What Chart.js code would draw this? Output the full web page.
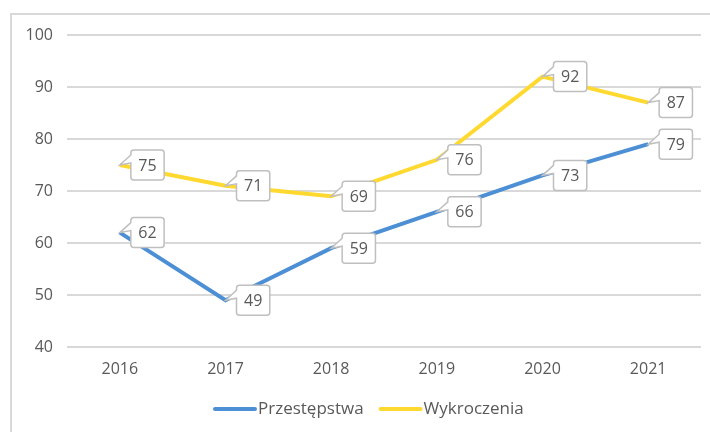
<!DOCTYPE html>
<html>
<head>
<meta charset="utf-8">
<script src="https://cdn.jsdelivr.net/npm/chart.js@4.4.0/dist/chart.umd.min.js"></script>
<style>
    body { margin: 0; background: #fff; }
    .chart-wrap { position: relative; width: 710px; height: 432px; overflow: hidden; }
    .chart-frame {
        position: absolute; left: 10px; top: 13px; width: 760px; height: 480px;
        border: 2px solid #d9d9d9; pointer-events: none;
    }
</style>
</head>
<body>
<div class="chart-wrap">
    <canvas id="crime-chart" width="710" height="432"></canvas>
    <div class="chart-frame"></div>
</div>
<script>
// Chart data
const years = ['2016', '2017', '2018', '2019', '2020', '2021'];
const przestepstwa = [62, 49, 59, 66, 73, 79];
const wykroczenia = [75, 71, 69, 76, 92, 87];
const yTicks = [40, 50, 60, 70, 80, 90, 100];

const textColor = '#595959';
const fontFamily = '"Open Sans", "Liberation Sans", sans-serif';

// Callout labels (box with a small pointer to the point)
const calloutPlugin = {
    id: 'callouts',
    afterDatasetsDraw(chart) {
        const ctx = chart.ctx;
        ctx.save();
        ctx.font = '16px ' + fontFamily;
        chart.data.datasets.forEach((dataset, i) => {
            const meta = chart.getDatasetMeta(i);
            meta.data.forEach((point, j) => {
                const text = String(dataset.data[j]);
                const w = ctx.measureText(text).width + 15;
                const h = 30;
                const left = point.x + 11;
                const top = point.y - h / 2;
                const r = 3;

                ctx.beginPath();
                ctx.moveTo(left + r, top);
                ctx.lineTo(left + w - r, top);
                ctx.arcTo(left + w, top, left + w, top + r, r);
                ctx.lineTo(left + w, top + h - r);
                ctx.arcTo(left + w, top + h, left + w - r, top + h, r);
                ctx.lineTo(left + r, top + h);
                ctx.arcTo(left, top + h, left, top + h - r, r);
                ctx.lineTo(left, top + 13);
                ctx.lineTo(point.x, point.y);
                ctx.lineTo(left, top + 5);
                ctx.lineTo(left, top + r);
                ctx.arcTo(left, top, left + r, top, r);
                ctx.closePath();
                ctx.fillStyle = '#ffffff';
                ctx.fill();
                ctx.lineWidth = 1.5;
                ctx.strokeStyle = '#bfbfbf';
                ctx.stroke();

                ctx.fillStyle = textColor;
                ctx.textAlign = 'center';
                ctx.textBaseline = 'middle';
                ctx.fillText(text, left + w / 2, point.y + 1);
            });
        });
        ctx.restore();
    }
};

// Legend drawn by hand so the line sits right next to the text
const legendPlugin = {
    id: 'lineLegend',
    afterDraw(chart) {
        const ctx = chart.ctx;
        const lineLen = 44;
        const gap = 1;
        const itemGap = 15;
        const y = 409;
        ctx.save();
        ctx.font = '17px ' + fontFamily;
        const items = chart.data.datasets.map(ds => ({
            label: ds.label,
            color: ds.borderColor,
            width: lineLen + gap + ctx.measureText(ds.label).width
        }));
        let x = 213;
        items.forEach(it => {
            ctx.strokeStyle = it.color;
            ctx.lineWidth = 4;
            ctx.lineCap = 'round';
            ctx.beginPath();
            ctx.moveTo(x + 2, y);
            ctx.lineTo(x + lineLen - 2, y);
            ctx.stroke();
            ctx.fillStyle = textColor;
            ctx.textAlign = 'left';
            ctx.textBaseline = 'middle';
            ctx.fillText(it.label, x + lineLen + gap, y);
            x += it.width + itemGap;
        });
        ctx.restore();
    }
};

document.addEventListener('DOMContentLoaded', function() {
    const canvas = document.getElementById('crime-chart');

    const config = {
        type: 'line',
        data: {
            labels: years,
            datasets: [
                {
                    label: 'Przestępstwa',
                    data: przestepstwa,
                    borderColor: '#4c8fd4',
                    borderWidth: 4,
                    pointRadius: 0,
                    tension: 0
                },
                {
                    label: 'Wykroczenia',
                    data: wykroczenia,
                    borderColor: '#ffd92f',
                    borderWidth: 4,
                    pointRadius: 0,
                    tension: 0
                }
            ]
        },
        options: {
            responsive: false,
            animation: false,
            layout: {
                padding: { top: 35, right: 9, bottom: 45, left: 0 }
            },
            scales: {
                x: {
                    offset: true,
                    grid: { display: false, drawTicks: false },
                    border: { display: false },
                    ticks: {
                        color: textColor,
                        font: { family: fontFamily, size: 16 },
                        padding: 13
                    },
                    afterFit: scale => { scale.height = 40; }
                },
                y: {
                    min: 40,
                    max: 100,
                    afterBuildTicks: scale => {
                        scale.ticks = yTicks.map(v => ({ value: v }));
                    },
                    grid: { color: '#d9d9d9', lineWidth: 2, drawTicks: false },
                    border: { display: false },
                    ticks: {
                        color: textColor,
                        font: { family: fontFamily, size: 16 },
                        padding: 14
                    },
                    afterFit: scale => { scale.width = 67; }
                }
            },
            plugins: {
                legend: { display: false },
                tooltip: { enabled: false }
            }
        },
        plugins: [calloutPlugin, legendPlugin]
    };

    new Chart(canvas, config);
});
</script>
</body>
</html>
